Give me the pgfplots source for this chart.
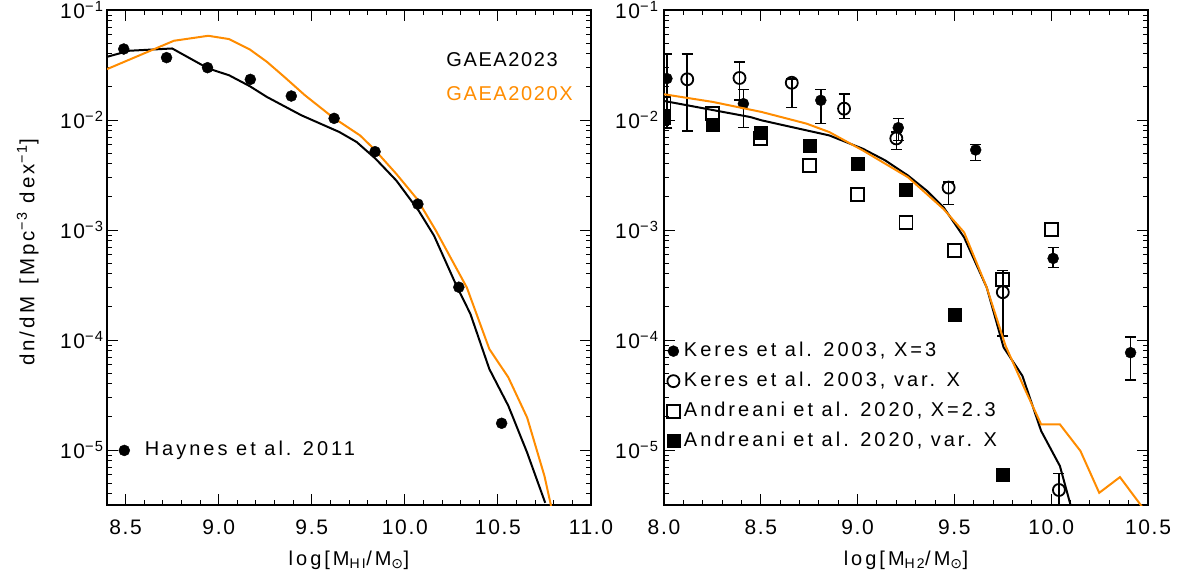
\documentclass[border=0pt]{standalone}
\usepackage{fontspec}
\setmainfont{Liberation Sans}
\newfontfamily\lsfont{Liberation Sans}[LetterSpace=15]
\newfontfamily\tickfont{Liberation Sans}[LetterSpace=8]
\newfontfamily\dejavu{DejaVu Sans}
\usepackage{pgfplots}
\pgfplotsset{compat=1.18}
\definecolor{gorange}{RGB}{255,140,0}

\begin{document}
\begin{tikzpicture}
\useasboundingbox (0,0) rectangle (1188bp,580bp);

% ---------------- Left panel ----------------
\begin{axis}[
  at={(107bp,75bp)}, anchor=south west,
  scale only axis, width=484bp, height=495bp,
  ymode=log, ymin=3.1623e-6, ymax=0.1,
  ytick={1e-5,1e-4,1e-3,1e-2,1e-1},
  yticklabels={10\textsuperscript{−5},10\textsuperscript{−4},10\textsuperscript{−3},10\textsuperscript{−2},10\textsuperscript{−1}},
  minor ytick={4e-6,5e-6,6e-6,7e-6,8e-6,9e-6,2e-5,3e-5,4e-5,5e-5,6e-5,7e-5,8e-5,9e-5,2e-4,3e-4,4e-4,5e-4,6e-4,7e-4,8e-4,9e-4,2e-3,3e-3,4e-3,5e-3,6e-3,7e-3,8e-3,9e-3,2e-2,3e-2,4e-2,5e-2,6e-2,7e-2,8e-2,9e-2},
  minor x tick num=4,
  tick align=inside,
  major tick length=11bp, minor tick length=5bp,
  tick style={black, line width=1bp},
  axis line style={black, line width=1.2bp},
  tick label style={font=\fontsize{21bp}{24bp}\tickfont},
  xticklabel shift=11bp,
  xlabel style={font=\fontsize{20bp}{24bp}\lsfont, at={(axis description cs:0.5,-0.111)}, anchor=center},
  ylabel style={font=\fontsize{20.5bp}{24bp}\lsfont, at={(axis description cs:-0.164,0.51)}, anchor=center},
  legend cell align=left,
  xmin=8.4, xmax=11.0,
  xtick={8.5,9.0,9.5,10.0,10.5,11.0},
  xticklabels={8.5,9.0,9.5,10.0,10.5,11.0},
  xlabel={log[M\textsubscript{HI}/M\textsubscript{\dejavu ⊙}]},
  ylabel={dn/dM\, [Mpc\textsuperscript{−3} dex\textsuperscript{−1}]},
  legend style={draw=none, fill=none, at={(axis cs:8.4624,1.208e-5)}, anchor=north west,
    font=\fontsize{20bp}{24bp}\lsfont, column sep=15bp, inner sep=0pt,
    nodes={inner sep=0pt, text height=14.5bp, text depth=4bp}},
]
\addplot[black, line width=2bp, forget plot] coordinates {
(8.4,0.03753) (8.519,0.0426) (8.75,0.0447) (8.944,0.0294) (9.056,0.0255)
(9.167,0.0203) (9.259,0.0162) (9.444,0.01104) (9.648,0.00778) (9.741,0.00631)
(9.843,0.00444) (9.954,0.00282) (10.074,0.0015) (10.157,8.87e-4) (10.278,3.1e-4)
(10.352,1.73e-4) (10.454,5.44e-5) (10.556,2.52e-5) (10.657,9.46e-6) (10.754,3.31e-6)
};
\addplot[gorange, line width=2bp, forget plot] coordinates {
(8.4,0.029) (8.759,0.0525) (8.944,0.0583) (9.056,0.0544) (9.167,0.0438)
(9.259,0.0338) (9.352,0.0247) (9.463,0.0168) (9.611,0.01064) (9.759,0.00725)
(9.833,0.00548) (9.954,0.00324) (10.065,0.00192) (10.167,9.86e-4) (10.333,3.0e-4)
(10.454,8.27e-5) (10.556,4.57e-5) (10.657,1.97e-5) (10.75,5.8e-6) (10.787,3.02e-6)
};
\addplot[only marks, black, mark=*, mark size=5.5bp, mark options={fill=black}] coordinates {
(8.49,0.0442) (8.72,0.0369) (8.94,0.0299) (9.17,0.0234) (9.39,0.01652)
(9.62,0.01035) (9.84,0.00515) (10.07,0.00172) (10.29,3.02e-4) (10.52,1.75e-5)
};
\addlegendentry{Haynes et al. 2011}
\node[anchor=west, font=\fontsize{20bp}{24bp}\tickfont, text=black] at (axis description cs:0.694,0.899) {GAEA2023};
\node[anchor=west, font=\fontsize{20bp}{24bp}\tickfont, text=gorange] at (axis description cs:0.694,0.832) {GAEA2020X};
\end{axis}

% ---------------- Right panel ----------------
\begin{axis}[
  at={(664bp,75bp)}, anchor=south west,
  scale only axis, width=484bp, height=495bp,
  ymode=log, ymin=3.1623e-6, ymax=0.1,
  ytick={1e-5,1e-4,1e-3,1e-2,1e-1},
  yticklabels={10\textsuperscript{−5},10\textsuperscript{−4},10\textsuperscript{−3},10\textsuperscript{−2},10\textsuperscript{−1}},
  minor ytick={4e-6,5e-6,6e-6,7e-6,8e-6,9e-6,2e-5,3e-5,4e-5,5e-5,6e-5,7e-5,8e-5,9e-5,2e-4,3e-4,4e-4,5e-4,6e-4,7e-4,8e-4,9e-4,2e-3,3e-3,4e-3,5e-3,6e-3,7e-3,8e-3,9e-3,2e-2,3e-2,4e-2,5e-2,6e-2,7e-2,8e-2,9e-2},
  minor x tick num=4,
  tick align=inside,
  major tick length=11bp, minor tick length=5bp,
  tick style={black, line width=1bp},
  axis line style={black, line width=1.2bp},
  tick label style={font=\fontsize{21bp}{24bp}\tickfont},
  xticklabel shift=11bp,
  yticklabel shift=2bp,
  xlabel style={font=\fontsize{20bp}{24bp}\lsfont, at={(axis description cs:0.5,-0.111)}, anchor=center},
  legend cell align=left,
  clip marker paths=true,
  xmin=8.0, xmax=10.5,
  xtick={8.0,8.5,9.0,9.5,10.0,10.5},
  xticklabels={8.0,8.5,9.0,9.5,10.0,10.5},
  xlabel={log[M\textsubscript{H2}/M\textsubscript{\dejavu ⊙}]},
  legend style={draw=none, fill=none, at={(axis cs:8.014,9.65e-5)}, anchor=north west,
    font=\fontsize{20bp}{24bp}\lsfont, column sep=4bp, row sep=11.5bp, inner sep=0pt,
    nodes={inner sep=0pt, text height=14.5bp, text depth=4bp}},
]
\addplot[only marks, black, mark=*, mark size=5.5bp, mark options={fill=black},
  error bars/.cd, y dir=both, y explicit,
  error bar style={line width=1.5bp, black},
  error mark options={rotate=90, mark size=5.5bp, line width=1.5bp, black}]
 table[x=x, y=y, y error plus=ep, y error minus=em] {
x y ep em
8.015 0.0238 0.0160 0.0153
8.41 0.01406 0.00494 0.00549
8.81 0.0151 0.0039 0.00577
9.21 0.00851 0.00177 0.00201
9.61 0.00534 0.00067 0.00107
10.01 5.52e-4 1.40e-4 0.98e-4
10.41 7.67e-5 3.03e-5 3.34e-5
};
\addlegendentry{Keres et al. 2003, X=3}
\addplot[only marks, black, mark=o, mark size=6bp, mark options={line width=1.8bp},
  error bars/.cd, y dir=both, y explicit,
  error bar style={line width=1.5bp, black},
  error mark options={rotate=90, mark size=5.5bp, line width=1.5bp, black}]
 table[x=x, y=y, y error plus=ep, y error minus=em] {
x y ep em
8.12 0.02345 0.01635 0.01551
8.39 0.0241 0.0096 0.0089
8.66 0.0218 0.0017 0.00886
8.93 0.01268 0.00452 0.00232
9.20 0.0068 0.0010 0.0014
9.47 0.00243 0.0003 0.00072
9.75 2.72e-4 1.55e-4 1.63e-4
10.04 4.33e-6 1.81e-6 3.0e-6
};
\addlegendentry{Keres et al. 2003, var. X}
\addplot[only marks, black, mark=square, mark size=6.5bp, mark options={line width=1.8bp}] coordinates {
(8.0,0.01419) (8.25,0.0115) (8.5,0.0068) (8.75,0.00385) (9.0,0.00211)
(9.25,0.001167) (9.5,6.49e-4) (9.75,3.56e-4) (10.0,1.014e-3)
};
\addlegendentry{Andreani et al. 2020, X=2.3}
\addplot[only marks, black, mark=square*, mark size=6.5bp, mark options={fill=black}] coordinates {
(8.0,0.01057) (8.25,0.009) (8.5,0.00773) (8.75,0.00585) (9.0,0.00398)
(9.25,0.00231) (9.5,1.69e-4) (9.75,5.93e-6)
};
\addlegendentry{Andreani et al. 2020, var. X}
\addplot[black, line width=2bp, forget plot] coordinates {
(8.0,0.0149) (8.446,0.01064) (8.504,0.00993) (8.736,0.00805) (8.853,0.00725)
(9.027,0.00548) (9.143,0.00429) (9.26,0.00313) (9.357,0.00228) (9.444,0.00161)
(9.55,8.57e-4) (9.667,3.0e-4) (9.754,8.57e-5) (9.851,4.73e-5) (9.948,1.49e-5)
(10.045,7.15e-6) (10.103,3.02e-6)
};
\addplot[gorange, line width=2bp, forget plot] coordinates {
(8.0,0.01714) (8.252,0.0146) (8.504,0.01183) (8.736,0.00927) (8.853,0.00778)
(9.027,0.00529) (9.26,0.00302) (9.444,0.00155) (9.55,9.53e-4) (9.667,3.0e-4)
(9.764,8.88e-5) (9.86,3.7e-5) (9.948,1.71e-5) (10.045,1.71e-5) (10.151,9.8e-6)
(10.248,4.08e-6) (10.355,5.67e-6) (10.471,3.02e-6)
};
\end{axis}
\end{tikzpicture}
\end{document}
